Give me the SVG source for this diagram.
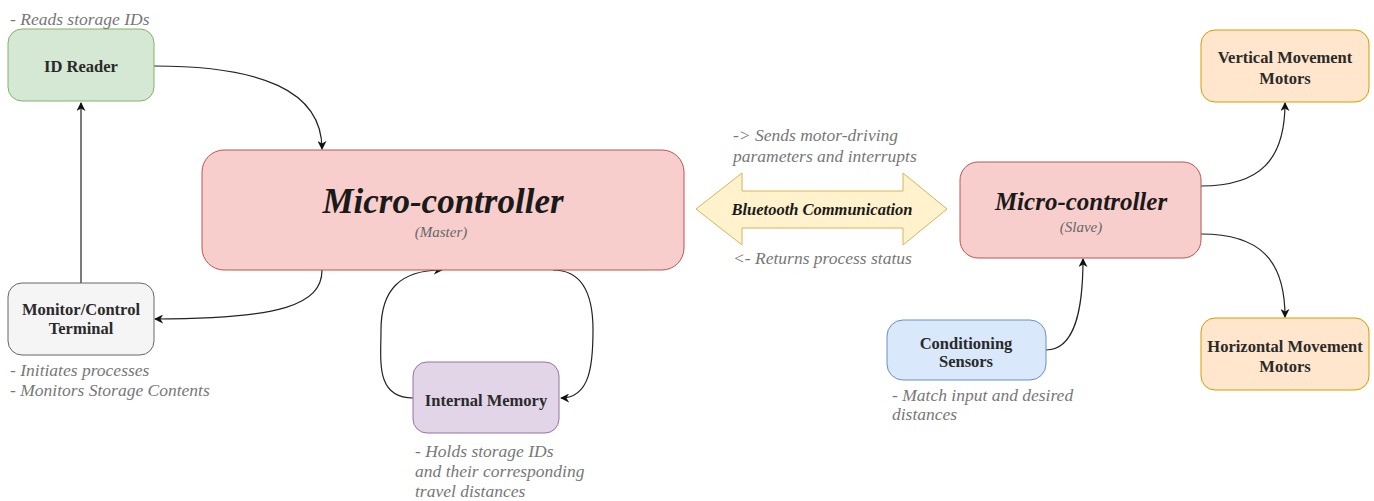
<svg xmlns="http://www.w3.org/2000/svg" width="1374" height="501" viewBox="0 0 1374 501">
<defs>
<marker id="ah" viewBox="0 0 10 10" refX="9" refY="5" markerWidth="9" markerHeight="9" markerUnits="userSpaceOnUse" orient="auto"><path d="M0,0 L10,5 L0,10 L3,5 Z" fill="#111"/></marker>
</defs>
<style>
.box{stroke-width:1}
.lbl{font-family:"Liberation Serif",serif;font-weight:bold;font-size:16.5px;fill:#2a2a2a;text-anchor:middle}
.note{font-family:"Liberation Serif",serif;font-style:italic;font-size:17.5px;fill:#777777}
.big{font-family:"Liberation Serif",serif;font-style:italic;font-weight:bold;fill:#1a1a1a;text-anchor:middle}
.sub{font-family:"Liberation Serif",serif;font-style:italic;font-size:15px;fill:#666;text-anchor:middle}
.con{fill:none;stroke:#222;stroke-width:1.2;marker-end:url(#ah)}
</style>
<g id="connectors">
<path class="con" d="M154,66 C260,66 322,90 322,149"/>
<path class="con" d="M81,283 L81,103"/>
<path class="con" d="M322,270 C322,305 280,319 155,319"/>
<path class="con" d="M413,398 C375,398 381,360 381,330 C381,290 400,270 442,270"/>
<path class="con" d="M553,270 C585,270 593,300 593,330 C593,365 590,398 561,398"/>
<path class="con" d="M1046,350 C1075,350 1083,310 1083,259"/>
<path class="con" d="M1201,186 C1260,186 1285,160 1285,103"/>
<path class="con" d="M1201,234 C1260,234 1285,260 1285,317"/>
</g>
<g id="id-reader">
<rect class="box" x="8" y="29" width="146" height="72" rx="14" fill="#d5e8d4" stroke="#82b366"/>
<text class="lbl" x="81" y="72">ID Reader</text>
<text class="note" x="10" y="25">- Reads storage IDs</text>
</g>
<g id="monitor">
<rect class="box" x="8" y="283" width="146" height="72" rx="14" fill="#f5f5f5" stroke="#666666"/>
<text class="lbl" x="81" y="315">Monitor/Control</text>
<text class="lbl" x="81" y="334">Terminal</text>
<text class="note" x="10" y="376">- Initiates processes</text>
<text class="note" x="10" y="396">- Monitors Storage Contents</text>
</g>
<g id="master">
<rect class="box" x="202" y="150" width="482" height="120" rx="22" fill="#f8cecc" stroke="#b85450"/>
<text class="big" x="443" y="213" font-size="35">Micro-controller</text>
<text class="sub" x="441" y="237">(Master)</text>
</g>
<g id="memory">
<rect class="box" x="413" y="362" width="146" height="71" rx="14" fill="#e1d5e7" stroke="#9673a6"/>
<text class="lbl" x="486" y="406">Internal Memory</text>
<text class="note" x="415" y="457">- Holds storage IDs</text>
<text class="note" x="415" y="477">and their corresponding</text>
<text class="note" x="415" y="497">travel distances</text>
</g>
<g id="bluetooth">
<path d="M696,209 L742,173 L742,191 L903,191 L903,173 L947,209 L903,245 L903,228 L742,228 L742,245 Z" fill="#fff2cc" stroke="#d6b656"/>
<text class="big" x="822" y="215" font-size="16.5">Bluetooth Communication</text>
<text class="note" x="733" y="141">-&gt; Sends motor-driving</text>
<text class="note" x="733" y="162">parameters and interrupts</text>
<text class="note" x="733" y="264">&lt;- Returns process status</text>
</g>
<g id="slave">
<rect class="box" x="960" y="162" width="241" height="96" rx="18" fill="#f8cecc" stroke="#b85450"/>
<text class="big" x="1081" y="210" font-size="25">Micro-controller</text>
<text class="sub" x="1081" y="232">(Slave)</text>
</g>
<g id="sensors">
<rect class="box" x="887" y="320" width="159" height="60" rx="16" fill="#dae8fc" stroke="#6c8ebf"/>
<text class="lbl" x="966" y="349">Conditioning</text>
<text class="lbl" x="966" y="367">Sensors</text>
<text class="note" x="892" y="401">- Match input and desired</text>
<text class="note" x="892" y="420">distances</text>
</g>
<g id="vertical">
<rect class="box" x="1201" y="30" width="168" height="72" rx="14" fill="#ffe6cc" stroke="#d79b00"/>
<text class="lbl" x="1285" y="63">Vertical Movement</text>
<text class="lbl" x="1285" y="84">Motors</text>
</g>
<g id="horizontal">
<rect class="box" x="1201" y="318" width="168" height="72" rx="14" fill="#ffe6cc" stroke="#d79b00"/>
<text class="lbl" x="1285" y="352">Horizontal Movement</text>
<text class="lbl" x="1285" y="372">Motors</text>
</g>
</svg>
